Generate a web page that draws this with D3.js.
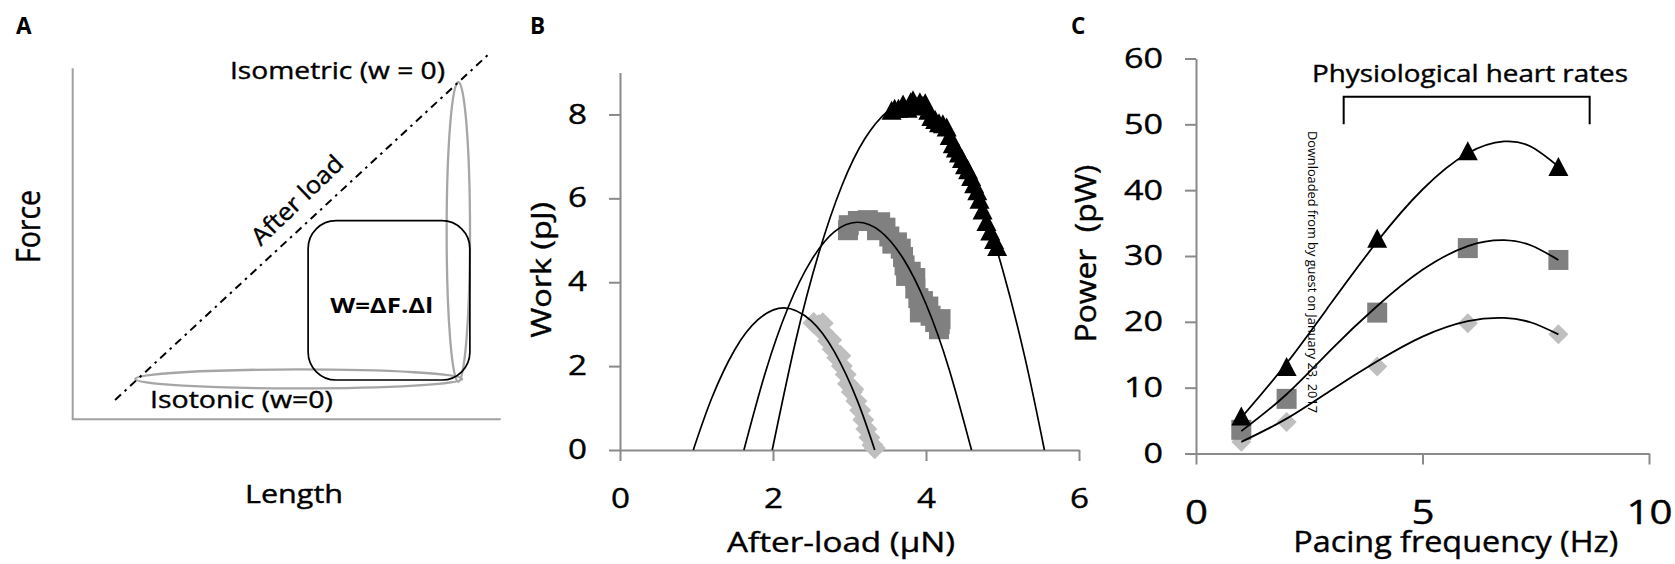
<!DOCTYPE html>
<html>
<head>
<meta charset="utf-8">
<script src="https://cdn.jsdelivr.net/npm/d3@7/dist/d3.min.js"></script>
<style>
  html, body { margin: 0; padding: 0; background: #ffffff; }
  svg { display: block; }
  text { font-family: "Open Sans", "DejaVu Sans", sans-serif; fill: #000; }
  text.heavy { stroke: #000; stroke-width: 0.4px; }
</style>
</head>
<body>
<svg id="chart" width="1675" height="564" viewBox="0 0 1675 564"></svg>
<script>
// ======================= DATA =======================
const panelLabels = ["A", "B", "C"];

// ---- Panel B : work vs after-load ----
const bTickX = [0, 2, 4, 6];
const bTickY = [0, 2, 4, 6, 8];
// light grey diamonds
const bLightLoad = [2.53, 2.60, 2.65, 2.66, 2.72, 2.76, 2.78, 2.84, 2.88, 2.90, 2.95, 2.98, 3.03, 3.05, 3.09, 3.14, 3.18, 3.22, 3.26, 3.30, 3.33];
const bLightWork = [3.03, 2.98, 3.02, 2.80, 2.60, 2.62, 2.40, 2.20, 2.25, 2.00, 1.80, 1.58, 1.38, 1.45, 1.17, 0.95, 0.72, 0.50, 0.30, 0.12, 0.04];
// dark grey squares
const bDarkLoad = [2.98, 2.99, 3.11, 3.24, 3.36, 3.40, 3.47, 3.52, 3.56, 3.62, 3.67, 3.70, 3.72, 3.74, 3.80, 3.86, 3.86, 3.90, 3.96, 4.03, 3.92, 4.06, 4.12, 4.18, 4.17, 4.19];
const bDarkWork = [5.24, 5.36, 5.46, 5.48, 5.24, 5.43, 5.30, 5.09, 4.92, 4.95, 4.80, 4.60, 4.40, 4.15, 4.25, 4.10, 3.85, 3.62, 3.55, 3.42, 3.28, 3.20, 3.05, 3.00, 2.88, 3.12];
// black triangles
const bBlackLoad = [3.55, 3.59, 3.64, 3.70, 3.76, 3.80, 3.83, 3.87, 3.92, 3.96, 3.99, 4.03, 4.07, 4.12, 4.17, 4.22, 4.27, 4.31, 4.35, 4.39, 4.43, 4.47, 4.51, 4.55, 4.59, 4.63, 4.67, 4.70, 4.74, 4.79, 4.84, 4.89, 4.93];
const bBlackWork = [8.10, 8.15, 8.15, 8.25, 8.15, 8.30, 8.35, 8.20, 8.30, 8.22, 8.28, 8.10, 7.95, 7.88, 7.80, 7.78, 7.70, 7.50, 7.30, 7.20, 7.08, 6.95, 6.80, 6.68, 6.52, 6.35, 6.18, 5.98, 5.72, 5.45, 5.22, 5.02, 4.85];
// trend lines
const bFitLightLoad = [0.958, 1.2, 1.5, 1.8, 2.144, 2.5, 2.8, 3.1, 3.33];
const bFitLightWork = [0, 1.24, 2.39, 3.10, 3.39, 3.08, 2.35, 1.19, 0];
const bFitDarkLoad = [1.62, 1.9, 2.2, 2.5, 2.8, 3.1, 3.4, 3.7, 4.0, 4.3, 4.595];
const bFitDarkWork = [0, 1.85, 3.41, 4.52, 5.20, 5.43, 5.22, 4.57, 3.48, 1.94, 0];
const bFitBlackLoad = [1.99, 2.3, 2.6, 2.9, 3.2, 3.5, 3.77, 4.1, 4.4, 4.7, 5.0, 5.3, 5.548];
const bFitBlackWork = [0, 2.63, 4.70, 6.30, 7.42, 8.08, 8.27, 7.98, 7.23, 6.00, 4.31, 2.15, 0];

// ---- Panel C : power vs pacing frequency ----
const cTickX = [0, 5, 10];
const cTickY = [0, 10, 20, 30, 40, 50, 60];
const cFrequency = [1, 2, 4, 6, 8];
const cPowerBlack = [5.7, 13.2, 32.7, 46.0, 43.6];
const cPowerDark = [3.6, 8.3, 21.4, 31.2, 29.4];
const cPowerLight = [1.8, 4.8, 13.2, 19.8, 18.1];
const cFitFreq = [1, 2, 3, 4, 5, 6, 6.8, 7.4, 8];
const cFitBlack = [5.45, 13.7, 23.0, 32.2, 40.1, 45.6, 47.4, 46.6, 43.6];
const cFitDark = [3.4, 9.0, 15.9, 22.4, 27.9, 31.5, 32.4, 31.6, 29.4];
const cFitLight = [1.76, 5.3, 9.7, 14.0, 17.75, 20.1, 20.6, 19.9, 18.1];
const cBracketFreq = [3.26, 8.69];
const cBracketPower = [50.0, 54.2];
const watermark = "Downloaded from by guest on January 23, 2017";

// ======================= DRAWING =======================
const svg = d3.select("#chart");
svg.append("rect").attr("width", 1675).attr("height", 564).attr("fill", "#fff");

const AXIS = "#8a8a8a";
const FONT = "'Open Sans', 'DejaVu Sans', sans-serif";
const LIGHT = "#bfbfbf", DARK = "#808080", BLACK = "#000000";

function addText(g, str, opt) {
  const t = g.append("text").text(str)
    .attr("font-size", opt.size)
    .attr("text-anchor", opt.anchor || "start");
  if (opt.cls) t.attr("class", opt.cls);
  if (opt.weight) t.attr("font-weight", opt.weight);
  if (opt.family) t.attr("font-family", opt.family);
  if (opt.len) t.attr("textLength", opt.len).attr("lengthAdjust", "spacingAndGlyphs");
  if (opt.pre) t.style("white-space", "pre");
  if (opt.fill) t.attr("fill", opt.fill);
  const rot = opt.rotate || 0;
  t.attr("transform", `translate(${opt.x},${opt.y}) rotate(${rot})`);
  if (opt.dy) t.attr("dy", opt.dy);
  return t;
}

// ---- panel letters ----
const labelPos = [[16, 33.5], [530, 33.5], [1071, 33.5]];
svg.selectAll("text.panel").data(panelLabels).enter().append("text")
  .attr("class", "panel")
  .attr("x", (d, i) => labelPos[i][0]).attr("y", (d, i) => labelPos[i][1])
  .attr("font-family", "'Liberation Sans', Arial, sans-serif")
  .attr("font-weight", "bold").attr("font-size", 22.5)
  .text(d => d);

// ================= Panel A (schematic) =================
const gA = svg.append("g");
const ax = d3.scaleLinear().domain([0, 100]).range([72.7, 500.7]);
const ay = d3.scaleLinear().domain([0, 100]).range([419.3, 68.3]);

gA.append("path")
  .attr("d", d3.line()([[ax(0), ay(100)], [ax(0), ay(0)], [ax(100), ay(0)]]))
  .attr("fill", "none").attr("stroke", "#a0a0a0").attr("stroke-width", 2);

gA.append("ellipse")
  .attr("cx", ax(52.8)).attr("cy", ay(11.5))
  .attr("rx", ax(52.8 + 38.2) - ax(52.8)).attr("ry", ay(11.5) - ay(11.5 + 2.7))
  .attr("fill", "none").attr("stroke", "#a6a6a6").attr("stroke-width", 2.3);
gA.append("ellipse")
  .attr("cx", ax(90.1)).attr("cy", ay(53.4))
  .attr("rx", ax(90.1 + 2.73) - ax(90.1)).attr("ry", ay(53.4) - ay(53.4 + 42.7))
  .attr("fill", "none").attr("stroke", "#a6a6a6").attr("stroke-width", 2.3);
gA.append("rect")
  .attr("x", ax(55.0)).attr("y", ay(56.6))
  .attr("width", ax(92.8) - ax(55.0)).attr("height", ay(11.2) - ay(56.6))
  .attr("rx", 28).attr("ry", 28)
  .attr("fill", "none").attr("stroke", "#000").attr("stroke-width", 1.7);
gA.append("path")
  .attr("d", d3.line()([[ax(9.9), ay(5.5)], [ax(97.0), ay(103.8)]]))
  .attr("fill", "none").attr("stroke", "#000").attr("stroke-width", 2)
  .attr("stroke-dasharray", "8,5,2.5,5");

addText(gA, "Force", {x: 39.5, y: 226.5, size: 33, anchor: "middle", rotate: -90, len: 73, cls: "heavy"});
addText(gA, "Length", {x: 294, y: 503.3, size: 25.5, anchor: "middle", len: 98, cls: "heavy"});
addText(gA, "Isometric (w = 0)", {x: 230, y: 79, size: 24, len: 215, pre: true, cls: "heavy"});
addText(gA, "Isotonic (w=0)", {x: 150, y: 408.3, size: 24, len: 183, cls: "heavy"});
addText(gA, "After load", {x: 297, y: 200, size: 24, anchor: "middle", rotate: -44, len: 117, dy: "0.35em", cls: "heavy"});
addText(gA, "W=ΔF.Δl", {x: 381.7, y: 313.3, size: 21, anchor: "middle", weight: "bold", len: 103});

// ================= Panel B =================
const gB = svg.append("g");
const bx = d3.scaleLinear().domain([0, 6]).range([620, 1079]);
const by = d3.scaleLinear().domain([0, 9]).range([450, 72.5]);

function styleAxis(g, size, charW) {
  g.attr("font-family", FONT).attr("font-size", size);
  g.select(".domain").attr("stroke", AXIS).attr("stroke-width", 2);
  g.selectAll(".tick line").attr("stroke", AXIS).attr("stroke-width", 2);
  g.selectAll(".tick text").attr("fill", "#000").attr("class", "heavy")
    .attr("textLength", d => String(d).length * charW)
    .attr("lengthAdjust", "spacingAndGlyphs");
}

const bAxisX = gB.append("g").attr("transform", `translate(0,${by(0)})`)
  .call(d3.axisBottom(bx).tickValues(bTickX).tickSize(11).tickSizeOuter(0).tickPadding(27).tickFormat(d3.format("d")));
styleAxis(bAxisX, 28, 19);
const bAxisY = gB.append("g").attr("transform", `translate(${bx(0)},0)`)
  .call(d3.axisLeft(by).tickValues(bTickY).tickSize(11).tickSizeOuter(0).tickPadding(22).tickFormat(d3.format("d")));
styleAxis(bAxisY, 27, 19);

const triPath = "M0,-9.5L10,9.5L-10,9.5Z";
const diaPath = "M0,-10L10,0L0,10L-10,0Z";
const diaPathB = "M0,-11L11,0L0,11L-11,0Z";

function pairs(xs, ys) { return xs.map((x, i) => [x, ys[i]]); }

gB.append("g").selectAll("path").data(pairs(bLightLoad, bLightWork)).enter().append("path")
  .attr("d", diaPathB).attr("fill", LIGHT)
  .attr("transform", d => `translate(${bx(d[0])},${by(d[1])})`);
gB.append("g").selectAll("rect").data(pairs(bDarkLoad, bDarkWork)).enter().append("rect")
  .attr("x", d => bx(d[0]) - 10).attr("y", d => by(d[1]) - 10)
  .attr("width", 20).attr("height", 20).attr("fill", DARK);
gB.append("g").selectAll("path").data(pairs(bBlackLoad, bBlackWork)).enter().append("path")
  .attr("d", triPath).attr("fill", BLACK)
  .attr("transform", d => `translate(${bx(d[0])},${by(d[1])})`);

const bLine = d3.line().x(d => bx(d[0])).y(d => by(d[1])).curve(d3.curveNatural);
[[bFitLightLoad, bFitLightWork], [bFitDarkLoad, bFitDarkWork], [bFitBlackLoad, bFitBlackWork]].forEach(([xs, ys]) => {
  gB.append("path").attr("d", bLine(pairs(xs, ys)))
    .attr("fill", "none").attr("stroke", "#000").attr("stroke-width", 1.7);
});

addText(gB, "Work (pJ)", {x: 551, y: 269.8, size: 28, anchor: "middle", rotate: -90, len: 136, cls: "heavy"});
addText(gB, "After-load (μN)", {x: 841, y: 552, size: 28, anchor: "middle", len: 228, cls: "heavy"});

// ================= Panel C =================
const gC = svg.append("g");
const cx = d3.scaleLinear().domain([0, 10]).range([1196, 1649]);
const cy = d3.scaleLinear().domain([0, 60]).range([453.5, 58.5]);

const cAxisX = gC.append("g").attr("transform", `translate(0,${cy(0)})`)
  .call(d3.axisBottom(cx).tickValues(cTickX).tickSize(11).tickSizeOuter(0).tickPadding(36).tickFormat(d3.format("d")));
styleAxis(cAxisX, 33, 23);
const cAxisY = gC.append("g").attr("transform", `translate(${cx(0)},0)`)
  .call(d3.axisLeft(cy).tickValues(cTickY).tickSize(11).tickSizeOuter(0).tickPadding(22).tickFormat(d3.format("d")));
styleAxis(cAxisY, 28, 19.5);

gC.append("g").selectAll("path").data(pairs(cFrequency, cPowerLight)).enter().append("path")
  .attr("d", diaPath).attr("fill", LIGHT)
  .attr("transform", d => `translate(${cx(d[0])},${cy(d[1])})`);
gC.append("g").selectAll("rect").data(pairs(cFrequency, cPowerDark)).enter().append("rect")
  .attr("x", d => cx(d[0]) - 10).attr("y", d => cy(d[1]) - 10)
  .attr("width", 20).attr("height", 20).attr("fill", DARK);
gC.append("g").selectAll("path").data(pairs(cFrequency, cPowerBlack)).enter().append("path")
  .attr("d", triPath).attr("fill", BLACK)
  .attr("transform", d => `translate(${cx(d[0])},${cy(d[1])})`);

const cLine = d3.line().x(d => cx(d[0])).y(d => cy(d[1])).curve(d3.curveNatural);
[cFitBlack, cFitDark, cFitLight].forEach(ys => {
  gC.append("path").attr("d", cLine(pairs(cFitFreq, ys)))
    .attr("fill", "none").attr("stroke", "#000").attr("stroke-width", 1.8);
});

gC.append("path")
  .attr("d", d3.line()([
    [cx(cBracketFreq[0]), cy(cBracketPower[0])],
    [cx(cBracketFreq[0]), cy(cBracketPower[1])],
    [cx(cBracketFreq[1]), cy(cBracketPower[1])],
    [cx(cBracketFreq[1]), cy(cBracketPower[0])]
  ]))
  .attr("fill", "none").attr("stroke", "#000").attr("stroke-width", 2);

addText(gC, "Physiological heart rates", {x: 1312, y: 82, size: 24, len: 316, cls: "heavy"});
addText(gC, "Power  (pW)", {x: 1096, y: 253.5, size: 30, anchor: "middle", rotate: -90, len: 178, pre: true, cls: "heavy"});
addText(gC, "Pacing frequency (Hz)", {x: 1455.7, y: 552, size: 30, anchor: "middle", len: 325, cls: "heavy"});

addText(gC, watermark, {x: 1307.5, y: 131, size: 13, rotate: 90, len: 282,
  family: "'Liberation Sans', Arial, sans-serif", fill: "#222"});
</script>
</body>
</html>
